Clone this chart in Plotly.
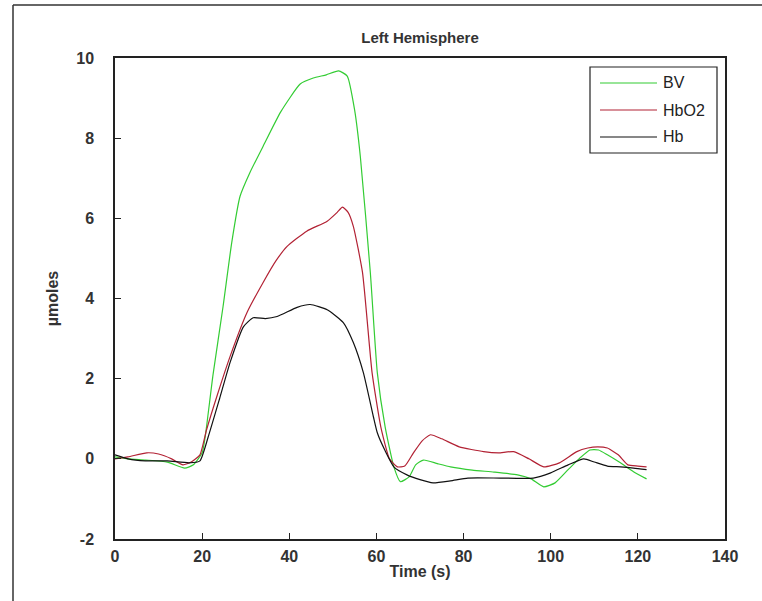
import plotly.graph_objects as go

# ---- data ----
bv_x = [0, 3, 7, 12, 16, 18, 20, 20.7, 22.5, 24.8, 26.8, 28.7, 31, 34, 38, 42.5, 45.5, 48.5, 51.3, 53.3, 55, 56.3, 58.6, 60.2, 62, 64, 65.5, 67.5, 69, 70.8, 74, 77, 82, 87, 92.4, 95.5, 98.4, 101, 104, 106.5, 109, 111, 113, 116, 119, 122]
bv_y = [0.05, 0.0, -0.03, -0.08, -0.23, -0.15, 0.15, 0.55, 2.1, 3.8, 5.4, 6.55, 7.15, 7.8, 8.65, 9.35, 9.5, 9.58, 9.68, 9.55, 8.7, 7.55, 4.65, 2.15, 0.8, -0.2, -0.57, -0.45, -0.15, -0.03, -0.12, -0.2, -0.28, -0.33, -0.4, -0.5, -0.7, -0.6, -0.27, 0.0, 0.22, 0.22, 0.1, -0.1, -0.32, -0.5]

hbo2_x = [0, 3, 7.3, 10, 13, 15.6, 17.5, 19.5, 21, 23.5, 26.4, 30.3, 34, 37, 39.5, 44, 48.7, 51, 52.2, 53.5, 54.7, 56.8, 59, 61, 63, 64.8, 66.5, 68.5, 70.5, 72.4, 75, 79, 84.6, 88, 91.5, 95, 98.4, 102, 106, 108.5, 110.8, 113, 115.5, 117.7, 120, 122]
hbo2_y = [0.0, 0.05, 0.15, 0.12, 0.0, -0.15, -0.08, 0.1, 0.72, 1.6, 2.55, 3.65, 4.4, 4.95, 5.3, 5.68, 5.93, 6.15, 6.28, 6.15, 5.8, 4.65, 2.15, 0.8, 0.0, -0.2, -0.18, 0.15, 0.45, 0.6, 0.5, 0.3, 0.18, 0.15, 0.18, 0.0, -0.2, -0.1, 0.18, 0.27, 0.3, 0.27, 0.1, -0.15, -0.18, -0.2]

hb_x = [0, 3, 7, 12, 17, 19.5, 21.4, 24, 26.4, 29.5, 31.7, 34.5, 37.2, 41.8, 44.8, 48.7, 52.4, 54.7, 57, 59.3, 60.2, 62, 64, 67, 70, 73, 77, 81, 88.5, 96, 100, 104, 107.6, 110, 113, 116, 119, 122]
hb_y = [0.1, 0.0, -0.05, -0.05, -0.1, -0.05, 0.55, 1.5, 2.4, 3.3, 3.52, 3.5, 3.55, 3.78, 3.85, 3.72, 3.4, 2.9, 2.15, 1.05, 0.65, 0.2, -0.2, -0.4, -0.52, -0.6, -0.55, -0.48, -0.48, -0.48, -0.35, -0.15, 0.0, -0.08, -0.18, -0.2, -0.23, -0.27]

series_names = ["BV", "HbO2", "Hb"]
series_colors = ["#33cc33", "#b22234", "#111111"]
series_data = [(bv_x, bv_y), (hbo2_x, hbo2_y), (hb_x, hb_y)]

x_ticks = [0, 20, 40, 60, 80, 100, 120, 140]
y_ticks = [-2, 0, 2, 4, 6, 8, 10]
y_tick_labels = ["-2", "0", "2", "4", "6", "8", "10"]

FONT = "Liberation Sans Narrow, Arial Narrow, Liberation Sans, Arial"

# plot-area pixel geometry helpers (for paper-coordinate decorations)
L, R, T, B = 115, 725, 58, 539
def px(xp):
    return (xp - L) / (R - L)
def py(yp):
    return (B - yp) / (B - T)

fig = go.Figure()
for name, (xs, ys), col in zip(series_names, series_data, series_colors):
    fig.add_trace(go.Scatter(x=xs, y=ys, mode="lines", name=name, showlegend=False,
                             line=dict(color=col, width=1.2, shape="spline", smoothing=0.5)))

fig.update_layout(
    width=762, height=601,
    margin=dict(l=L, r=762 - R, t=T, b=601 - B),
    paper_bgcolor="white", plot_bgcolor="white",
    showlegend=False,
    title=dict(text="Left Hemisphere", x=420/762, xanchor="center",
               y=1 - 38/601, yanchor="middle",
               font=dict(family=FONT, size=15, color="#333333", weight="bold")),
    xaxis=dict(range=[0, 140], tickvals=x_ticks, ticks="inside", ticklen=6,
               tickcolor="#222222", showline=True, linecolor="#222222", linewidth=1.5,
               mirror=True, showgrid=False, zeroline=False, ticklabelstandoff=2,
               tickfont=dict(family=FONT, size=16, color="#333333", weight="bold"),
               title=dict(text="Time (s)", standoff=2,
                          font=dict(family=FONT, size=16, color="#333333", weight="bold"))),
    yaxis=dict(range=[-2, 10], tickvals=y_ticks, ticktext=y_tick_labels,
               ticks="inside", ticklen=6,
               tickcolor="#222222", showline=True, linecolor="#222222", linewidth=1.5,
               mirror=True, showgrid=False, zeroline=False, ticklabelstandoff=16,
               tickfont=dict(family=FONT, size=16, color="#333333", weight="bold"),
               title=dict(text="µmoles", standoff=14,
                          font=dict(family=FONT, size=16, color="#333333", weight="bold"))),
)

# outer frame of the original figure window (left and top edges only)
fig.add_shape(type="line", xref="paper", yref="paper",
              x0=px(13), x1=px(13), y0=py(601), y1=py(5),
              line=dict(color="#333333", width=1.5))
fig.add_shape(type="line", xref="paper", yref="paper",
              x0=px(13), x1=px(762), y0=py(5), y1=py(5),
              line=dict(color="#333333", width=1.5))

# legend box drawn to match the original
fig.add_shape(type="rect", xref="paper", yref="paper",
              x0=px(590), x1=px(717), y0=py(153), y1=py(67),
              line=dict(color="#222222", width=1.2), fillcolor="white")
legend_rows = [83, 110, 137]
for name, col, yrow in zip(series_names, series_colors, legend_rows):
    fig.add_shape(type="line", xref="paper", yref="paper",
                  x0=px(600), x1=px(657), y0=py(yrow), y1=py(yrow),
                  line=dict(color=col, width=1.2))
    fig.add_annotation(xref="paper", yref="paper", x=px(661), y=py(yrow),
                       xanchor="left", yanchor="middle", showarrow=False,
                       text=name,
                       font=dict(family="Liberation Sans, Arial", size=16, color="#222222"))

fig.write_html("out.html")
